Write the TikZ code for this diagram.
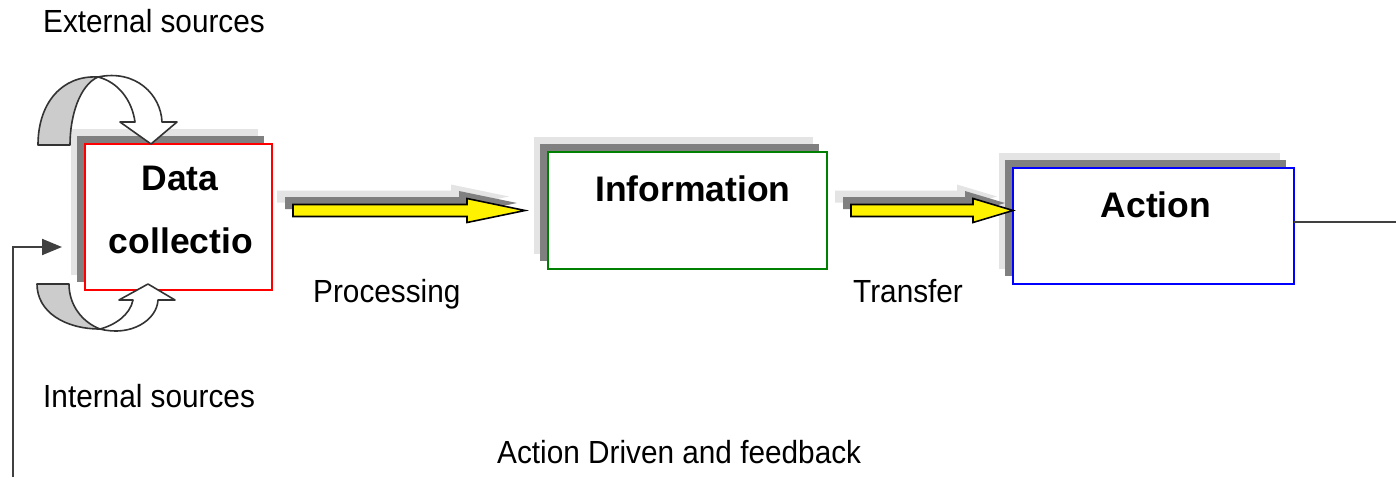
\documentclass[tikz,border=0pt]{standalone}
\usepackage{fontspec}
\setmainfont{Liberation Sans}
\newfontfamily\labelfont[FakeStretch=0.93]{Liberation Sans}
\usetikzlibrary{arrows.meta,calc,backgrounds}

\definecolor{shadelight}{HTML}{E4E4E4}
\definecolor{shadedark}{HTML}{808080}
\definecolor{ribbon}{HTML}{CCCCCC}
\definecolor{outline}{HTML}{333333}
\definecolor{boxgreen}{HTML}{008000}
\definecolor{wire}{HTML}{404040}

\tikzset{
  stage/.style={draw=#1, line width=1.6pt, fill=white, inner sep=0pt,
                outer sep=0pt, anchor=north west},
  caption/.style={font=\labelfont\fontsize{32}{38}\selectfont, inner sep=0pt, anchor=base west},
  title/.style={font=\bfseries\fontsize{35.5}{42}\selectfont, inner sep=0pt, anchor=base},
  bigarrow/.style={fill=yellow, draw=black, line width=1.6pt, line join=miter},
  turn/.style={draw=outline, line width=1.6pt, line join=round},
  wireline/.style={draw=wire, line width=2pt},
}

% outline of a flat block arrow: tail, tip, head length, shift x, shift y
\newcommand\blockarrow[5]{%
  ($(#1)+(#4,#5+6)$) -- ($(#2)+(#4-#3,#5+6)$) -- ($(#2)+(#4-#3,#5+12)$) --
  ($(#2)+(#4,#5)$) -- ($(#2)+(#4-#3,#5-12)$) -- ($(#2)+(#4-#3,#5-6)$) --
  ($(#1)+(#4,#5-6)$) -- cycle}

% yellow block arrow with its two stacked shadows
\newcommand\fatarrow[3]{%
  \fill[shadelight] \blockarrow{#1}{#2}{#3}{-16}{-14};
  \fill[shadedark]  \blockarrow{#1}{#2}{#3}{-8}{-7.5};
  \draw[bigarrow]   \blockarrow{#1}{#2}{#3}{0}{0};
}

% two stacked shadows behind a stage box
\newcommand\stageshadow[1]{%
  \fill[shadelight] ($(#1.north west)+(-14,-15)$) rectangle ($(#1.south east)+(-14,-15)$);
  \fill[shadedark]  ($(#1.north west)+(-8,-8)$) rectangle ($(#1.south east)+(-8,-8)$);
}

\begin{document}
\begin{tikzpicture}[x=1pt,y=-1pt]
\useasboundingbox (0,0) rectangle (1396,477);

% stage boxes
\node[stage=red, minimum width=187, minimum height=146] (data) at (85,144) {};
\node[stage=boxgreen, minimum width=279, minimum height=117] (info) at (548,152) {};
\node[stage=blue, minimum width=281, minimum height=116] (act) at (1013,168) {};

\begin{pgfonlayer}{background}
  \stageshadow{data}
  \stageshadow{info}
  \stageshadow{act}
\end{pgfonlayer}

% box titles
\node[title] (tdata) at (180,190) {Data};
\node[title] (tcoll) at (181,253) {collectio};
\node[title] (tinfo) at (693,201) {Information};
\node[title] (tact)  at (1156,217) {Action};

% block arrows between stages
\coordinate (lvl) at (0,210.5);
\coordinate (p1) at ($(data.east |- lvl)+(21,0)$);
\coordinate (q1) at ($(info.west |- lvl)+(-23,0)$);
\coordinate (p2) at ($(info.east |- lvl)+(24,0)$);
\coordinate (q2) at (act.west |- lvl);
\fatarrow{p1}{q1}{58}
\fatarrow{p2}{q2}{40}

% curved arrow from external sources (top)
\draw[turn, fill=ribbon] (38,145) .. controls (38,103) and (62,75) .. (98,77)
  .. controls (80,85) and (70,115) .. (70,145) -- cycle;
\draw[turn, fill=white] (98,77) .. controls (136,69) and (161,95) .. (162,122)
  -- (177,122) -- (151,144) -- (120,122) -- (135,122)
  .. controls (132,100) and (118,82) .. (98,77) -- cycle;

% curved arrow from internal sources (bottom)
\draw[turn, fill=ribbon] (37,284) .. controls (37,312) and (65,329) .. (100,329)
  .. controls (82,322) and (69,305) .. (69,284) -- cycle;
\draw[turn, fill=white] (100,329) .. controls (131,337) and (157,320) .. (158,300)
  -- (175,300) -- (148,284) -- (119,300) -- (133,300)
  .. controls (130,315) and (115,325) .. (100,329) -- cycle;

% feedback path
\coordinate (fbR) at (1396,222);
\coordinate (fbL) at (13,477);
\coordinate (fbIn) at ($(data.west |- 0,247)+(-23,0)$);
\draw[wireline] (act.east |- fbR) -- (fbR);
\draw[wireline, -{Triangle[length=20pt,width=16pt]}] (fbL) |- (fbIn);

% captions
\node[caption] (ext)  at (43,32)   {External sources};
\node[caption] (proc) at (313,302) {Processing};
\node[caption] (tran) at (853,302) {Transfer};
\node[caption] (intl) at (43,407)  {Internal sources};
\node[caption] (fdbk) at (497,463) {Action Driven and feedback};
\end{tikzpicture}
\end{document}
